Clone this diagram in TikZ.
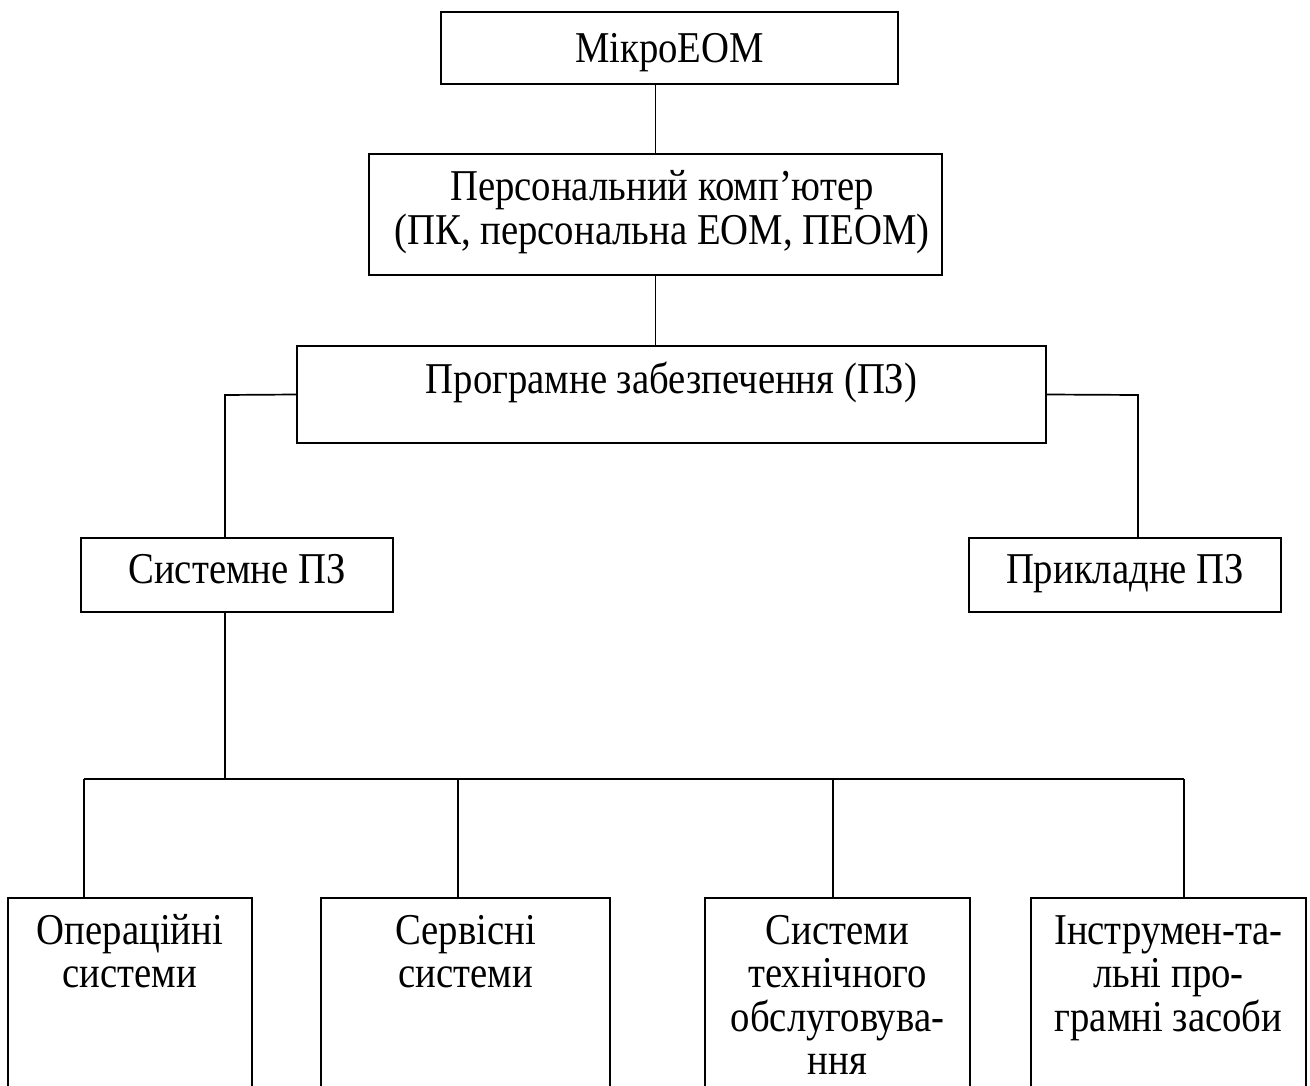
\documentclass[tikz,border=0pt]{standalone}
\usepackage{fontspec}
\setmainfont{Liberation Serif}[FakeStretch=0.88]
\newcommand{\toplines}[1]{\begin{tabular}[t]{@{}c@{}}#1\end{tabular}}
\begin{document}
\begin{tikzpicture}[x=1pt,y=-1pt,
  box/.style={draw, line width=1.7pt, rectangle, inner sep=0pt},
  wire/.style={line width=1.7pt},
  lbl/.style={inner sep=0pt, anchor=base, align=center,
    font=\fontsize{44}{43}\selectfont}]
\useasboundingbox (0,0) rectangle (1310,1086);
\clip (0,0) rectangle (1310,1086);

% upper chain
\node[box, minimum width=457pt, minimum height=72pt] (micro) at (669.5,48) {};
\node[lbl] (microtxt) at (669.5,63) {МікроЕОМ};
\node[box, minimum width=573pt, minimum height=121pt] (pc) at (655.5,214.5) {};
\node[lbl] (pctxt) at (662,201) {\toplines{Персональний комп’ютер\\(ПК, персональна ЕОМ, ПЕОМ)}};
\node[box, minimum width=749pt, minimum height=97pt] (soft) at (671.5,394.5) {};
\node[lbl] (softtxt) at (671.5,393) {Програмне забезпечення (ПЗ)};

% second level
\node[box, minimum width=312pt, minimum height=74pt] (sys) at (237,575) {};
\node[lbl] (systxt) at (237,583) {Системне ПЗ};
\node[box, minimum width=312pt, minimum height=74pt] (app) at (1125,575) {};
\node[lbl] (apptxt) at (1125,583) {Прикладне ПЗ};

% kinds of system software (boxes run past the lower edge)
\node[box, minimum width=244pt, minimum height=202pt] (os) at (130,999) {};
\node[box, minimum width=289pt, minimum height=202pt] (svc) at (465.5,999) {};
\node[box, minimum width=265pt, minimum height=202pt] (maint) at (837.5,999) {};
\node[box, minimum width=275pt, minimum height=202pt] (tools) at (1168.5,999) {};
\node[lbl] (ostxt) at (130,944) {\toplines{Операційні\\системи}};
\node[lbl] (svctxt) at (465.5,944) {\toplines{Сервісні\\системи}};
\node[lbl] (mainttxt) at (837.5,944) {\toplines{Системи\\технічного\\обслуговува-\\ння}};
\node[lbl] (toolstxt) at (1168.5,944) {\toplines{Інструмен-та-\\льні про-\\грамні засоби}};

% junction points
\coordinate (lj) at (225,395);
\coordinate (rj) at (1138,395);
\coordinate (bus) at (225,779);
\coordinate (b1) at (84,779);
\coordinate (b2) at (458,779);
\coordinate (b3) at (833,779);
\coordinate (b4) at (1184,779);

% connectors
\draw[wire] (pc.north) -- (pc.north |- micro.south);
\draw[wire] (pc.south) -- (pc.south |- soft.north);
\draw[wire] (soft.west) -- (lj) -- (lj |- sys.north);
\draw[wire] (soft.east) -- (rj) -- (rj |- app.north);
\draw[wire] (bus |- sys.south) -- (bus);
\draw[wire] (b1) -- (b4);
\draw[wire] (b1) -- (b1 |- os.north);
\draw[wire] (b2) -- (b2 |- svc.north);
\draw[wire] (b3) -- (b3 |- maint.north);
\draw[wire] (b4) -- (b4 |- tools.north);
\end{tikzpicture}
\end{document}
